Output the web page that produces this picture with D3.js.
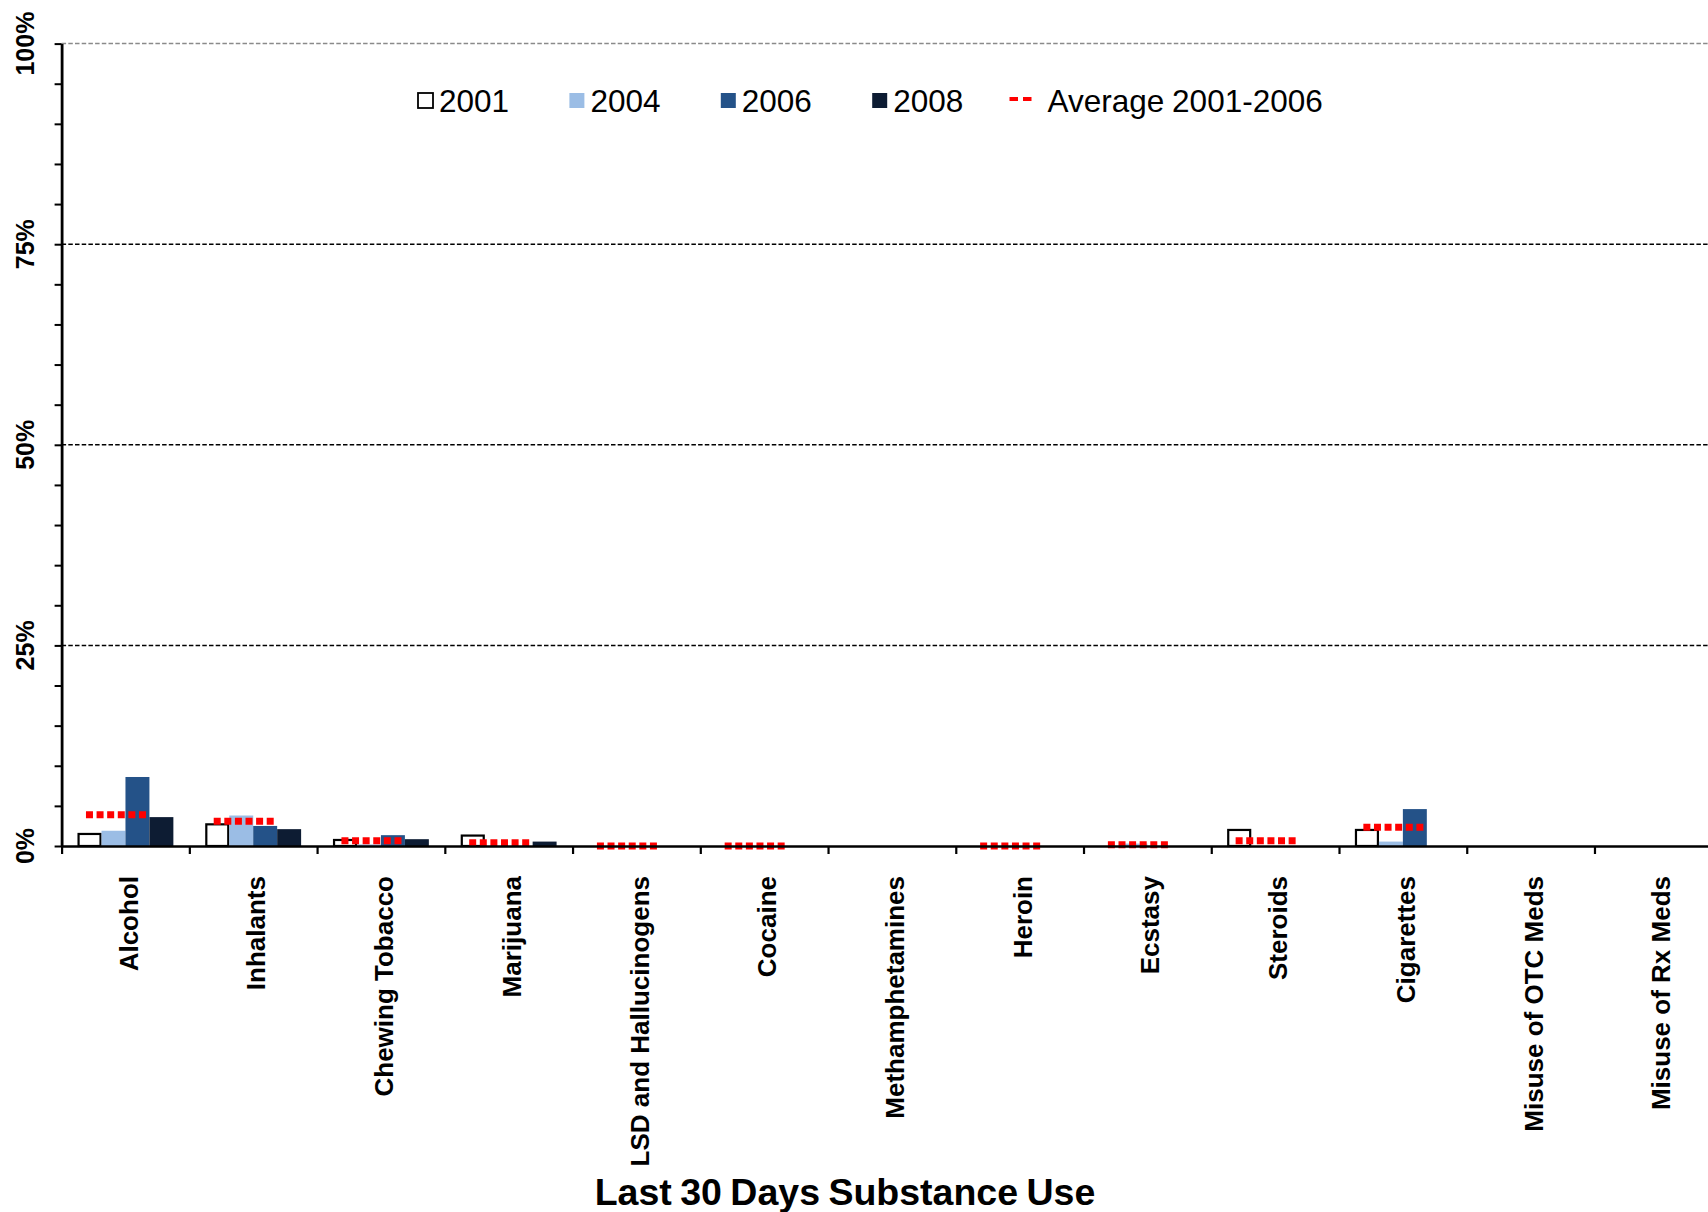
<!DOCTYPE html>
<html>
<head>
<meta charset="utf-8">
<script src="https://cdn.jsdelivr.net/npm/d3@7"></script>
<style>
body { margin: 0; background: #ffffff; }
text { font-family: "Liberation Sans", Arial, sans-serif; fill: #000000; }
</style>
</head>
<body>
<script>
//Data (percent of students)
var categories = ["Alcohol", "Inhalants", "Chewing Tobacco", "Marijuana", "LSD and Hallucinogens", "Cocaine", "Methamphetamines", "Heroin", "Ecstasy", "Steroids", "Cigarettes", "Misuse of OTC Meds", "Misuse of Rx Meds"];
var years = ["2001", "2004", "2006", "2008"];
var values2001 = [1.5, 2.7, 0.75, 1.3, 0, 0, null, 0, 0, 2.0, 2.0, null, null];
var values2004 = [1.9, 3.8, 0.2, 0, 0, 0, null, 0, 0.3, 0, 0.55, null, null];
var values2006 = [8.6, 2.5, 1.35, 0, 0, 0, null, 0, 0, 0, 4.6, null, null];
var values2008 = [3.6, 2.1, 0.85, 0.55, 0, 0, null, 0, 0, 0, 0, null, null];
var average = [3.9, 3.1, 0.65, 0.4, 0, 0, null, 0, 0.15, 0.65, 2.35, null, null];
var yTicks = [0, 25, 50, 75, 100];
var legendLabels = ["2001", "2004", "2006", "2008", "Average 2001-2006"];

//Settings
var width = 1708;
var height = 1212;
var plotLeft = 61.6;
var bandWidth = 127.74;
var plotTop = 43.6;
var plotBottom = 846;
var colors = {"2001": "#ffffff", "2004": "#9bbde5", "2006": "#245288", "2008": "#0d1c33"};

var series = {"2001": values2001, "2004": values2004, "2006": values2006, "2008": values2008};

var svg = d3.select("body").append("svg").attr("width", width).attr("height", height);
svg.append("rect").attr("width", width).attr("height", height).attr("fill", "#ffffff");

//Scales
var x = d3.scaleBand().domain(categories).range([plotLeft, plotLeft + bandWidth * categories.length]).padding(0);
var xInner = d3.scaleBand().domain(years).range([bandWidth * 0.125, bandWidth * 0.875]).padding(0);
var xEdge = d3.scaleLinear().domain([0, categories.length]).range([plotLeft, plotLeft + bandWidth * categories.length]);
var y = d3.scaleLinear().domain([0, 100]).range([plotBottom, plotTop]);

//Gridlines
svg.append("g").selectAll("line").data(yTicks.filter(d => d > 0)).enter().append("line")
    .attr("x1", plotLeft).attr("x2", width).attr("y1", d => y(d)).attr("y2", d => y(d))
    .attr("stroke", d => d == 100 ? "#8a8a8a" : "#000000").attr("stroke-width", 1.5).attr("stroke-dasharray", "4.5,2.2");

//Bars
var bars = svg.append("g");
years.forEach(year => {
    bars.append("g").selectAll("rect").data(categories.map((c, i) => ({c: c, v: series[year][i]})).filter(d => d.v !== null)).enter().append("rect")
        .attr("x", d => x(d.c) + xInner(year) + (year == "2001" ? 1 : 0))
        .attr("y", d => y(d.v))
        .attr("width", xInner.bandwidth() - (year == "2001" ? 2 : 0))
        .attr("height", d => y(0) - y(d.v))
        .attr("fill", colors[year])
        .attr("stroke", year == "2001" ? "#000000" : "none")
        .attr("stroke-width", 2.2);
});

//Average markers
var blur = svg.append("defs").append("filter").attr("id", "soft").attr("filterUnits", "userSpaceOnUse")
    .attr("x", 0).attr("y", 0).attr("width", width).attr("height", height);
blur.append("feGaussianBlur").attr("stdDeviation", 0.7);
svg.append("g").attr("filter", "url(#soft)").selectAll("line").data(categories.map((c, i) => ({c: c, v: average[i]})).filter(d => d.v !== null)).enter().append("line")
    .attr("x1", d => x(d.c) + bandWidth / 2 - 39.5).attr("x2", d => x(d.c) + bandWidth / 2 + 20.5)
    .attr("y1", d => y(d.v)).attr("y2", d => y(d.v))
    .attr("stroke", "#ff0000").attr("stroke-width", 7).attr("stroke-dasharray", "7,3.6");

//Y axis
var yAxis = svg.append("g").attr("transform", "translate(" + plotLeft + ",0)")
    .call(d3.axisLeft(y).tickValues(d3.range(0, 101, 5)).tickFormat("").tickSize(7).tickSizeOuter(0));
yAxis.select(".domain").attr("stroke", "#000000").attr("stroke-width", 2.8);
yAxis.selectAll(".tick line").attr("stroke", "#000000").attr("stroke-width", 2);

svg.append("g").selectAll("text").data(yTicks).enter().append("text")
    .attr("transform", d => "translate(25," + y(d) + ") rotate(-90)")
    .attr("text-anchor", "middle").attr("dy", "0.35em")
    .attr("font-size", 25).attr("font-weight", "bold")
    .text(d => d + "%");

//X axis
var xAxis = svg.append("g").attr("transform", "translate(0," + plotBottom + ")")
    .call(d3.axisBottom(xEdge).tickValues(d3.range(0, categories.length + 1)).tickFormat("").tickSize(8).tickSizeOuter(0));
xAxis.select(".domain").attr("stroke", "#000000").attr("stroke-width", 2.6);
xAxis.selectAll(".tick line").attr("stroke", "#000000").attr("stroke-width", 2.2);

svg.append("g").selectAll("text").data(categories).enter().append("text")
    .attr("transform", d => "translate(" + (x(d) + bandWidth / 2 + 3) + ",876) rotate(-90)")
    .attr("text-anchor", "end").attr("dy", "0.35em")
    .attr("font-size", 26).attr("font-weight", "bold")
    .text(d => d);

//Axis title
svg.append("text").attr("x", 845).attr("y", 1205).attr("text-anchor", "middle")
    .attr("font-size", 37.5).attr("font-weight", "bold").attr("word-spacing", -2)
    .text("Last 30 Days Substance Use");

//Legend
var legend = svg.append("g");
years.forEach((year, i) => {
    var lx = 417 + i * 151.4;
    legend.append("rect").attr("x", lx + 1).attr("y", 93).attr("width", 15).attr("height", 15)
        .attr("fill", colors[year]).attr("stroke", year == "2001" ? "#000000" : "none").attr("stroke-width", 1.8);
    legend.append("text").attr("x", lx + 22).attr("y", 111.7).attr("font-size", 31.5).text(legendLabels[i]);
});
legend.append("line").attr("x1", 1009.5).attr("x2", 1031.5).attr("y1", 99).attr("y2", 99)
    .attr("stroke", "#ff0000").attr("stroke-width", 4).attr("stroke-dasharray", "8.5,5");
legend.append("text").attr("x", 1047.6).attr("y", 111.7).attr("font-size", 31.5).attr("word-spacing", -1).text(legendLabels[4]);
</script>
</body>
</html>
